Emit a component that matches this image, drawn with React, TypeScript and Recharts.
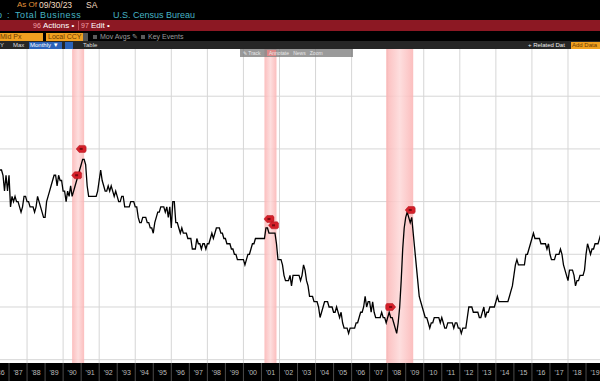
import React from "react";
import {
  LineChart,
  Line,
  XAxis,
  YAxis,
  CartesianGrid,
  ReferenceArea,
  ReferenceDot,
} from "recharts";

// monthly ratio, starting Jul 1986
const firstMonth = "1986-07";
const ratio: number[] = [
  // 1986 (Jul-Dec)
  1.56, 1.56, 1.55, 1.52, 1.55, 1.52,
  // 1987
  1.55, 1.49, 1.51, 1.50, 1.51, 1.50, 1.50, 1.49, 1.48, 1.49, 1.51, 1.51,
  // 1988
  1.50, 1.50, 1.49, 1.49, 1.49, 1.48, 1.49, 1.51, 1.50, 1.49, 1.48, 1.47,
  // 1989
  1.47, 1.50, 1.51, 1.52, 1.53, 1.54, 1.55, 1.55, 1.53, 1.55, 1.54, 1.54,
  // 1990
  1.52, 1.52, 1.50, 1.52, 1.51, 1.53, 1.51, 1.52, 1.53, 1.54, 1.55, 1.56,
  // 1991
  1.57, 1.58, 1.58, 1.57, 1.53, 1.51, 1.51, 1.51, 1.51, 1.51, 1.51, 1.52,
  // 1992
  1.54, 1.56, 1.54, 1.53, 1.52, 1.52, 1.53, 1.52, 1.53, 1.52, 1.51, 1.52,
  // 1993
  1.51, 1.50, 1.50, 1.51, 1.51, 1.49, 1.49, 1.49, 1.49, 1.50, 1.50, 1.50,
  // 1994
  1.49, 1.49, 1.47, 1.46, 1.46, 1.47, 1.47, 1.47, 1.46, 1.46, 1.45, 1.45,
  // 1995
  1.44, 1.46, 1.47, 1.48, 1.48, 1.49, 1.49, 1.49, 1.48, 1.49, 1.47, 1.49,
  // 1996
  1.45, 1.50, 1.50, 1.46, 1.46, 1.45, 1.44, 1.45, 1.44, 1.44, 1.44, 1.43,
  // 1997
  1.43, 1.43, 1.41, 1.41, 1.41, 1.43, 1.42, 1.42, 1.41, 1.42, 1.42, 1.41,
  // 1998
  1.42, 1.42, 1.43, 1.44, 1.43, 1.44, 1.45, 1.45, 1.45, 1.44, 1.44, 1.43,
  // 1999
  1.43, 1.42, 1.42, 1.42, 1.41, 1.41, 1.40, 1.40, 1.39, 1.39, 1.39, 1.39,
  // 2000
  1.39, 1.38, 1.39, 1.40, 1.40, 1.41, 1.42, 1.42, 1.43, 1.43, 1.43, 1.43,
  // 2001
  1.43, 1.43, 1.43, 1.45, 1.45, 1.44, 1.44, 1.44, 1.44, 1.44, 1.42, 1.39,
  // 2002
  1.39, 1.39, 1.38, 1.36, 1.35, 1.35, 1.35, 1.36, 1.34, 1.36, 1.36, 1.36,
  // 2003
  1.36, 1.36, 1.35, 1.36, 1.38, 1.37, 1.35, 1.34, 1.32, 1.32, 1.32, 1.31,
  // 2004
  1.31, 1.31, 1.30, 1.28, 1.29, 1.30, 1.31, 1.31, 1.31, 1.30, 1.30, 1.30,
  // 2005
  1.29, 1.29, 1.30, 1.29, 1.28, 1.29, 1.27, 1.26, 1.26, 1.26, 1.25, 1.26,
  // 2006
  1.26, 1.26, 1.26, 1.27, 1.27, 1.28, 1.29, 1.29, 1.30, 1.32, 1.30, 1.31,
  // 2007
  1.31, 1.29, 1.31, 1.29, 1.28, 1.28, 1.28, 1.28, 1.29, 1.28, 1.28, 1.27,
  // 2008
  1.28, 1.29, 1.28, 1.28, 1.27, 1.26, 1.25, 1.27, 1.30, 1.35, 1.41, 1.45,
  // 2009
  1.47, 1.48, 1.47, 1.46, 1.47, 1.44, 1.41, 1.38, 1.35, 1.32, 1.31, 1.30,
  // 2010
  1.29, 1.28, 1.28, 1.27, 1.26, 1.27, 1.27, 1.28, 1.28, 1.28, 1.28, 1.27,
  // 2011
  1.28, 1.27, 1.26, 1.26, 1.27, 1.27, 1.27, 1.27, 1.26, 1.27, 1.27, 1.26,
  // 2012
  1.26, 1.25, 1.26, 1.26, 1.26, 1.28, 1.30, 1.30, 1.30, 1.29, 1.29, 1.29,
  // 2013
  1.29, 1.28, 1.28, 1.29, 1.30, 1.28, 1.29, 1.29, 1.30, 1.30, 1.30, 1.30,
  // 2014
  1.31, 1.32, 1.31, 1.31, 1.31, 1.31, 1.31, 1.31, 1.31, 1.32, 1.33, 1.34,
  // 2015
  1.36, 1.38, 1.39, 1.38, 1.38, 1.38, 1.38, 1.38, 1.40, 1.40, 1.41, 1.42,
  // 2016
  1.43, 1.44, 1.43, 1.43, 1.43, 1.43, 1.42, 1.42, 1.42, 1.42, 1.41, 1.42,
  // 2017
  1.40, 1.39, 1.39, 1.39, 1.40, 1.40, 1.40, 1.41, 1.40, 1.38, 1.37, 1.36,
  // 2018
  1.35, 1.37, 1.37, 1.37, 1.36, 1.34, 1.35, 1.35, 1.36, 1.36, 1.36, 1.37,
  // 2019
  1.40, 1.42, 1.41, 1.40, 1.41, 1.41, 1.42, 1.42, 1.42, 1.43, 1.44,
];

const yearLabels = [
  "'86", "'87", "'88", "'89", "'90", "'91", "'92", "'93", "'94", "'95", "'96",
  "'97", "'98", "'99", "'00", "'01", "'02", "'03", "'04", "'05", "'06", "'07",
  "'08", "'09", "'10", "'11", "'12", "'13", "'14", "'15", "'16", "'17", "'18",
  "'19",
];

const gridYears = [1988, 1990, 1992, 1994, 1996, 1998, 2000, 2002, 2004, 2006, 2008, 2010, 2012, 2014, 2016, 2018];
const gridValues = [1.2, 1.3, 1.4, 1.5, 1.6, 1.7];

const recessions = [
  { start: "1990-07", end: "1991-03" },
  { start: "2001-03", end: "2001-11" },
  { start: "2007-12", end: "2009-06" },
];

// key event tags
const events = [
  { date: "1990-10", value: 1.55, point: "left" },
  { date: "1991-01", value: 1.6, point: "left" },
  { date: "2001-06", value: 1.467, point: "left" },
  { date: "2001-09", value: 1.455, point: "left" },
  { date: "2008-03", value: 1.3, point: "right" },
  { date: "2009-04", value: 1.484, point: "left" },
];

// months counted from Jan 1988
const toT = (ym: string) => {
  const [y, m] = ym.split("-").map(Number);
  return (y - 1988) * 12 + (m - 1);
};

const T0 = toT(firstMonth);
const data = ratio.map((v, i) => ({ t: T0 + i, ratio: v }));

const X_MIN = -18;
const X_MAX = 381.3;
const PX_PER_MONTH = 600 / (X_MAX - X_MIN);

const yearTicks = yearLabels.map((_, i) => (1986 + i - 1988) * 12 + 6);

const YearTick = (props: any) => {
  const { x, y, index } = props;
  const sep = x - 6 * PX_PER_MONTH;
  return (
    <g>
      <line x1={sep} y1={y} x2={sep} y2={y + 18} stroke="#4a4a4a" strokeWidth={1} />
      <text
        x={x}
        y={y + 12}
        textAnchor="middle"
        fontSize={7}
        fill="#bdbdbd"
        fontFamily="Liberation Sans, Arial, sans-serif"
      >
        {yearLabels[index]}
      </text>
    </g>
  );
};

const EventTag = (props: any) => {
  const { cx, cy, point } = props;
  const s = point === "right" ? -1 : 1;
  const d = `M ${cx - 5 * s} ${cy} L ${cx - 2 * s} ${cy - 3.5} L ${cx + 4 * s} ${cy - 3.5} L ${cx + 5 * s} ${cy - 2} L ${cx + 5 * s} ${cy + 2} L ${cx + 4 * s} ${cy + 3.5} L ${cx - 2 * s} ${cy + 3.5} Z`;
  return (
    <g>
      <path d={d} fill="#d4202a" stroke="#b0141c" strokeWidth={0.5} />
      <rect x={cx - 1.5} y={cy - 1} width={3} height={2} fill="#7a0a10" />
    </g>
  );
};

const txt: React.CSSProperties = {
  position: "absolute",
  fontFamily: "Liberation Sans, Arial, sans-serif",
  fontSize: 8,
  lineHeight: "10px",
  whiteSpace: "nowrap",
};

const Header = () => (
  <>
    {/* row 1 */}
    <div style={{ ...txt, left: 17, top: 0, color: "#e0923a", fontSize: 8 }}>As Of</div>
    <div style={{ ...txt, left: 39, top: 0, color: "#f2dcc0", fontSize: 8.5 }}>09/30/23</div>
    <div style={{ ...txt, left: 86, top: 0, color: "#f2dcc0", fontSize: 8.5 }}>SA</div>
    {/* row 2 */}
    <div style={{ ...txt, left: -3, top: 10, color: "#46b4c4", fontSize: 9 }}>o</div>
    <div style={{ ...txt, left: 7, top: 10, color: "#46b4c4", fontSize: 9 }}>:</div>
    <div style={{ ...txt, left: 15, top: 10, color: "#46b4c4", fontSize: 9, letterSpacing: 0.6 }}>
      Total Business
    </div>
    <div style={{ ...txt, left: 113, top: 10, color: "#46b4c4", fontSize: 9 }}>U.S. Census Bureau</div>
    {/* red action bar */}
    <div style={{ position: "absolute", left: 0, top: 20, width: 600, height: 11, background: "#8c1823" }} />
    <div style={{ ...txt, left: 33, top: 20.5, color: "#f3a0a8", fontSize: 7 }}>96</div>
    <div style={{ ...txt, left: 43, top: 20.5, color: "#fff", fontSize: 8 }}>Actions •</div>
    <div style={{ position: "absolute", left: 78, top: 21, width: 1, height: 9, background: "#c04a55" }} />
    <div style={{ ...txt, left: 81, top: 20.5, color: "#f3a0a8", fontSize: 7 }}>97</div>
    <div style={{ ...txt, left: 91, top: 20.5, color: "#fff", fontSize: 8 }}>Edit •</div>
    {/* row 4 */}
    <div style={{ position: "absolute", left: 0, top: 33, width: 43, height: 8, background: "#f0a020" }} />
    <div style={{ ...txt, left: 0, top: 32, color: "#6b3a00", fontSize: 7 }}>Mid Px</div>
    <div style={{ position: "absolute", left: 46, top: 33, width: 37, height: 8, background: "#f0a020" }} />
    <div style={{ ...txt, left: 48, top: 32, color: "#6b3a00", fontSize: 7 }}>Local CCY</div>
    <div style={{ position: "absolute", left: 83, top: 33, width: 5, height: 8, background: "#555" }} />
    <div style={{ position: "absolute", left: 93, top: 35, width: 4, height: 4, background: "#5a5a5a" }} />
    <div style={{ ...txt, left: 100, top: 32, color: "#9a9a9a", fontSize: 7 }}>Mov Avgs ✎</div>
    <div style={{ position: "absolute", left: 141, top: 35, width: 4, height: 4, background: "#5a5a5a" }} />
    <div style={{ ...txt, left: 148, top: 32, color: "#9a9a9a", fontSize: 7 }}>Key Events</div>
    {/* row 5 */}
    <div style={{ position: "absolute", left: 0, top: 41, width: 600, height: 8, background: "#262626" }} />
    <div style={{ ...txt, left: 0, top: 40, color: "#ddd", fontSize: 6 }}>Y</div>
    <div style={{ ...txt, left: 13, top: 40, color: "#ddd", fontSize: 6 }}>Max</div>
    <div style={{ position: "absolute", left: 29, top: 42, width: 33, height: 7, background: "#2a62b8" }} />
    <div style={{ ...txt, left: 30, top: 40, color: "#fff", fontSize: 6 }}>Monthly ▼</div>
    <div style={{ position: "absolute", left: 65, top: 42, width: 8, height: 7, background: "#2a62b8" }} />
    <div style={{ ...txt, left: 83, top: 40, color: "#ddd", fontSize: 6 }}>Table</div>
    <div style={{ ...txt, left: 528, top: 40, color: "#eee", fontSize: 6 }}>+ Related Dat</div>
    <div style={{ position: "absolute", left: 571, top: 42, width: 29, height: 7, background: "#f0a020" }} />
    <div style={{ ...txt, left: 572, top: 40, color: "#6b3a00", fontSize: 6 }}>Add Data</div>
  </>
);

const App: React.FC = () => {
  return (
    <div
      style={{
        position: "absolute",
        left: 0,
        top: 0,
        width: 600,
        height: 381,
        background: "#000",
        overflow: "hidden",
      }}
    >
      <Header />
      <div style={{ position: "absolute", left: 0, top: 49, width: 600, height: 314, background: "#fff" }} />
      <div style={{ position: "absolute", left: 0, top: 49 }}>
        <LineChart width={600} height={332} data={data} margin={{ top: 0, right: 0, bottom: 0, left: 0 }}>
          <defs>
            <linearGradient id="recessionFill" x1="0" y1="0" x2="1" y2="0">
              <stop offset="0%" stopColor="#fbb3b3" />
              <stop offset="50%" stopColor="#fdd8d8" />
              <stop offset="100%" stopColor="#fbb3b3" />
            </linearGradient>
          </defs>
          <CartesianGrid
            stroke="#d6d6d6"
            strokeWidth={1}
            verticalValues={gridYears.map((y) => (y - 1988) * 12)}
            horizontalValues={gridValues}
          />
          <XAxis
            type="number"
            dataKey="t"
            domain={[X_MIN, X_MAX]}
            allowDataOverflow
            ticks={yearTicks}
            interval={0}
            height={18}
            axisLine={false}
            tickLine={false}
            tickSize={0}
            tickMargin={0}
            tick={(p: any) => <YearTick {...p} />}
          />
          <YAxis hide domain={[1.1937, 1.7896]} ticks={gridValues} allowDataOverflow />
          {recessions.map((r) => (
            <ReferenceArea
              key={r.start}
              x1={toT(r.start)}
              x2={toT(r.end)}
              fill="url(#recessionFill)"
              fillOpacity={0.85}
              stroke="none"
            />
          ))}
          <Line
            type="linear"
            dataKey="ratio"
            stroke="#000"
            strokeWidth={1.3}
            dot={false}
            isAnimationActive={false}
          />
          {events.map((e, i) => (
            <ReferenceDot
              key={i}
              x={toT(e.date)}
              y={e.value}
              r={4}
              shape={(p: any) => <EventTag {...p} point={e.point} />}
            />
          ))}
        </LineChart>
      </div>
      {/* chart toolbar */}
      <div
        style={{
          position: "absolute",
          left: 240,
          top: 49,
          width: 113,
          height: 8,
          background: "rgba(120,120,120,0.75)",
        }}
      />
      <div style={{ position: "absolute", left: 267, top: 50, width: 9, height: 6, background: "#d88" }} />
      <div style={{ ...txt, left: 243, top: 48, color: "#e8e8e8", fontSize: 5 }}>
        ✎ Track&nbsp;&nbsp;&nbsp;&nbsp;&nbsp;&nbsp;Annotate&nbsp;&nbsp;&nbsp;News&nbsp;&nbsp;&nbsp;Zoom
      </div>
    </div>
  );
};

export default App;
